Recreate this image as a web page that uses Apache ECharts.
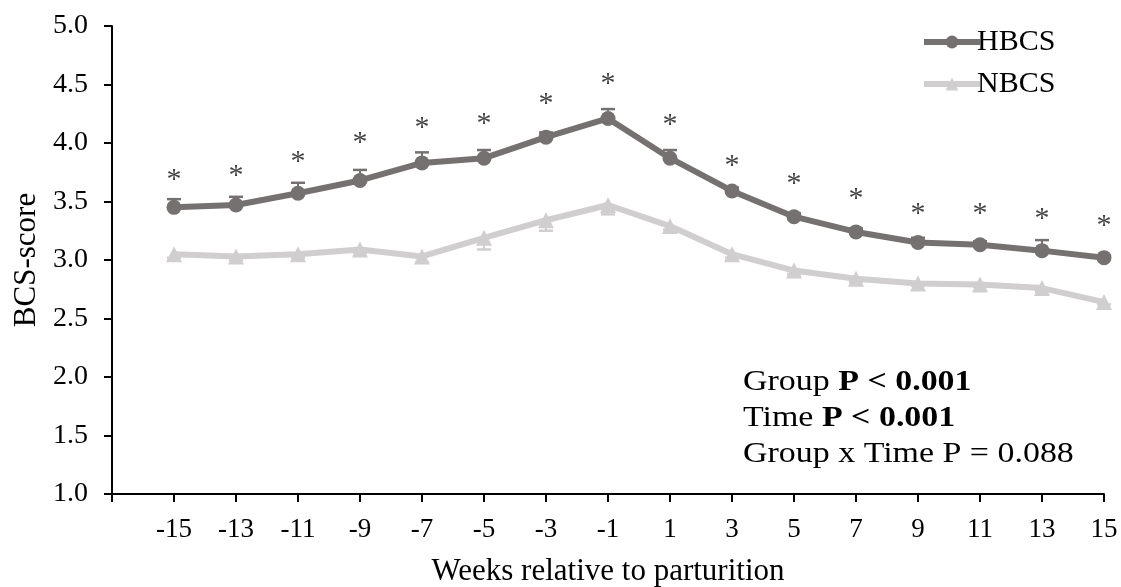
<!DOCTYPE html>
<html>
<head>
<meta charset="utf-8">
<script src="https://cdn.jsdelivr.net/npm/echarts@6/dist/echarts.min.js"></script>
<style>html,body{margin:0;padding:0;background:#fff;}#c{width:1121px;height:587px;}</style>
</head>
<body>
<div id="c"></div>
<script>
var weeks = [-15,-13,-11,-9,-7,-5,-3,-1,1,3,5,7,9,11,13,15];
var hbcs = [3.45,3.47,3.57,3.68,3.83,3.87,4.05,4.21,3.87,3.59,3.37,3.24,3.15,3.13,3.08,3.02];
var hbcsErr = [0.07,0.07,0.09,0.09,0.09,0.07,0.04,0.08,0.07,0.03,0.03,0.03,0.04,0.03,0.09,0.02];
var nbcs = [3.05,3.03,3.05,3.09,3.03,3.19,3.34,3.47,3.29,3.05,2.91,2.84,2.80,2.79,2.76,2.64];
var nbcsErr = [0.03,0.03,0.03,0.03,0.05,0.10,0.09,0.08,0.03,0.03,0.03,0.03,0.02,0.02,0.03,0.02];
var starPos = [3.74,3.78,3.90,4.06,4.19,4.22,4.39,4.56,4.21,3.86,3.71,3.58,3.45,3.45,3.41,3.35];

var FONT = '"Liberation Serif", "Times New Roman", serif';
var C1 = '#767171', C2 = '#d0cece';

function pairs(xs, ys){ return xs.map(function(x,i){ return [x, ys[i]]; }); }

function errSeries(vals, errs, dir, color){
  return {
    type: 'custom', silent: true, z: 1,
    data: weeks.map(function(w,i){ return [w, vals[i], vals[i] + dir*errs[i]]; }),
    renderItem: function(params, api){
      var p0 = api.coord([api.value(0), api.value(1)]);
      var p1 = api.coord([api.value(0), api.value(2)]);
      var hw = 7;
      return {
        type: 'group',
        children: [
          {type:'line', shape:{x1:p0[0],y1:p0[1],x2:p1[0],y2:p1[1]}, style:{stroke:color,lineWidth:2}},
          {type:'line', shape:{x1:p1[0]-hw,y1:p1[1],x2:p1[0]+hw,y2:p1[1]}, style:{stroke:color,lineWidth:2.5}}
        ]
      };
    }
  };
}

var chart = echarts.init(document.getElementById('c'));
chart.setOption({
  animation: false,
  backgroundColor: '#fff',
  textStyle: {fontFamily: FONT},
  grid: {left: 112, right: 17, top: 26, bottom: 93, containLabel: false, outerBoundsMode: 'none'},
  legend: {
    orient: 'vertical', left: 916, top: 22, itemGap: 12,
    itemWidth: 56, itemHeight: 16,
    lineStyle: {width: 6},
    textStyle: {fontFamily: FONT, fontSize: 30, color: '#000', padding: [0,0,0,-8]},
    data: ['HBCS', 'NBCS']
  },
  xAxis: {
    type: 'value', min: -17, max: 15, interval: 2,
    name: 'Weeks relative to parturition', nameLocation: 'middle', nameGap: 62,
    nameTextStyle: {fontFamily: FONT, fontSize: 31, color: '#000'},
    axisLine: {onZero: false, lineStyle: {color: '#000', width: 2}},
    axisTick: {length: 8, lineStyle: {color: '#000', width: 2}},
    axisLabel: {
      fontFamily: FONT, fontSize: 27, color: '#000', margin: 22,
      formatter: function(v){ return weeks.indexOf(v) >= 0 ? String(v) : ''; }
    },
    splitLine: {show: false}
  },
  yAxis: {
    type: 'value', min: 1, max: 5, interval: 0.5,
    name: 'BCS-score', nameLocation: 'middle', nameGap: 70, nameRotate: 90,
    nameTextStyle: {fontFamily: FONT, fontSize: 31, color: '#000'},
    axisLine: {show: true, onZero: false, lineStyle: {color: '#000', width: 2}},
    axisTick: {show: true, length: 8, lineStyle: {color: '#000', width: 2}},
    axisLabel: {
      fontFamily: FONT, fontSize: 28, color: '#000', margin: 24,
      formatter: function(v){ return v.toFixed(1); }
    },
    splitLine: {show: false}
  },
  series: [
    errSeries(hbcs, hbcsErr, 1, C1),
    errSeries(nbcs, nbcsErr, -1, C2),
    {
      name: 'HBCS', type: 'line', z: 3, data: pairs(weeks, hbcs),
      symbol: 'circle', symbolSize: 15,
      lineStyle: {color: C1, width: 6}, itemStyle: {color: C1}
    },
    {
      name: 'NBCS', type: 'line', z: 2, data: pairs(weeks, nbcs),
      symbol: 'triangle', symbolSize: 16,
      lineStyle: {color: C2, width: 6}, itemStyle: {color: C2}
    },
    {
      type: 'scatter', silent: true, data: pairs(weeks, starPos),
      symbolSize: 1, itemStyle: {color: 'transparent'},
      label: {show: true, position: 'inside', formatter: '*', fontFamily: FONT, fontSize: 30, color: '#111', offset: [0, 7]}
    }
  ],
  graphic: [
    {type:'text', left: 743, top: 368, scaleX: 1.17, originX: 0, style: {
      text: '{n|Group }{b|P < 0.001}\n{n|Time }{b|P < 0.001}\n{n|Group x Time P = 0.088}',
      rich: {
        n: {fontFamily: FONT, fontSize: 29, color: '#000', lineHeight: 36},
        b: {fontFamily: FONT, fontSize: 29, fontWeight: 'bold', color: '#000', lineHeight: 36}
      }
    }}
  ]
});
</script>
</body>
</html>
